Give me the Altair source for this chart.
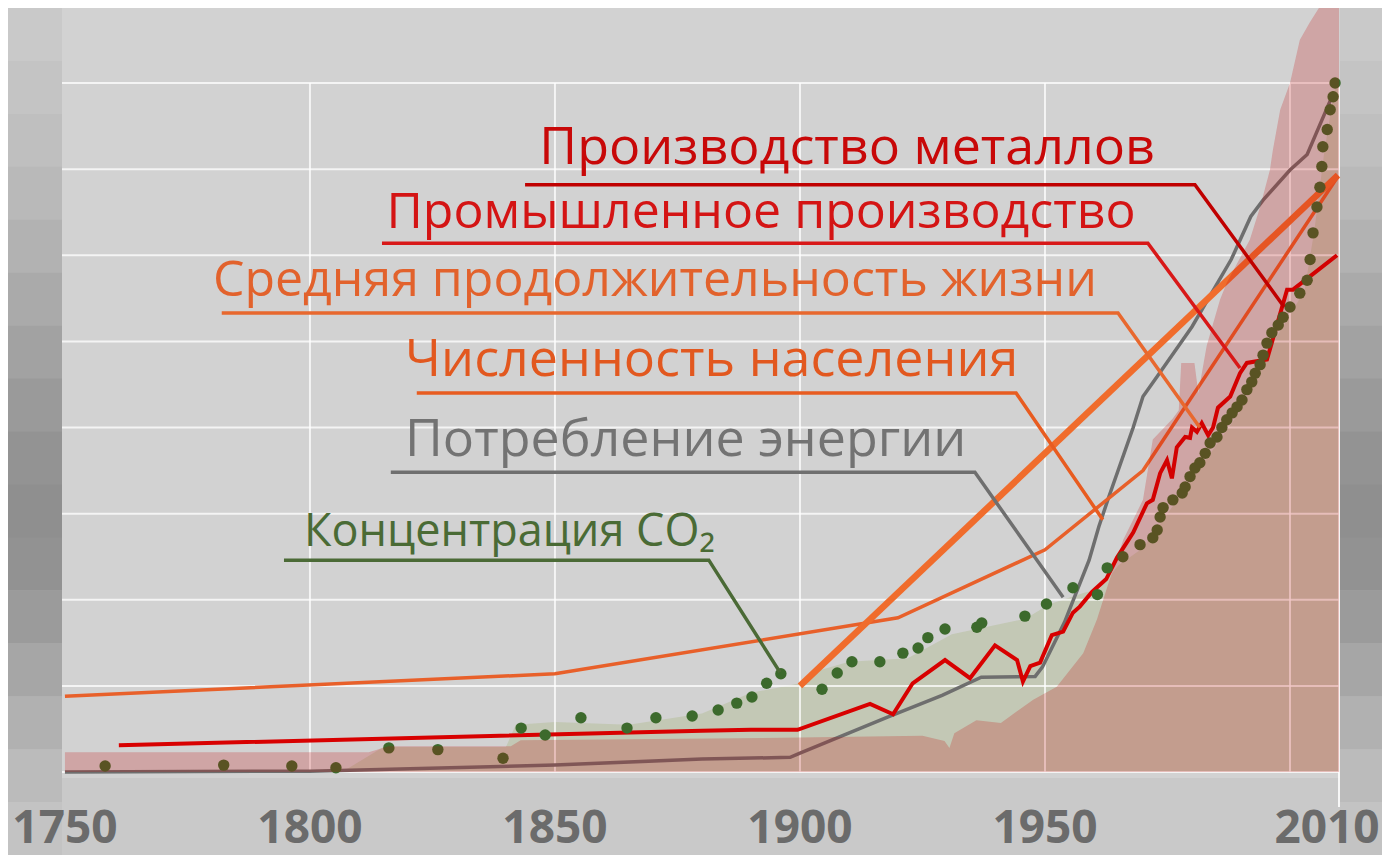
import altair as alt
import pandas as pd

# ---------------- data (y in relative units) ----------------
energy_years = [1750, 1800, 1850, 1880, 1898, 1900, 1918, 1929, 1937, 1948, 1949.5, 1954, 1959,
                1961, 1963, 1968, 1970, 1973, 1980, 1988, 1992, 1994.5, 2000, 2003.5, 2009]
energy_vals = [0.0, 0.01, 0.08, 0.15, 0.17, 0.22, 0.64, 0.89, 1.10, 1.11, 1.22, 1.74, 2.46,
               2.85, 3.19, 4.00, 4.36, 4.60, 5.17, 5.95, 6.45, 6.64, 6.99, 7.17, 7.90]

industry_years = [1761, 1880, 1890, 1899.5, 1914.3, 1919, 1923, 1929.6, 1934.7, 1939.8, 1944.3,
                  1945.5, 1947, 1949, 1951.4, 1953.7, 1955.7, 1957.1, 1959.6, 1962.5, 1964.7,
                  1968, 1970.8, 1972, 1973.5, 1974.9, 1975.9, 1976.9, 1978.6, 1979.6, 1980, 1981,
                  1982, 1983.3, 1984.3, 1985.3, 1987.8, 1989.8, 1991.2, 1995.3, 1999.4, 2000.6,
                  2009.6]
industry_vals = [0.31, 0.48, 0.49, 0.49, 0.79, 0.67, 1.03, 1.30, 1.09, 1.47, 1.30,
                 1.05, 1.23, 1.27, 1.59, 1.63, 1.85, 1.92, 2.09, 2.24, 2.49,
                 2.78, 3.12, 3.16, 3.47, 3.62, 3.41, 3.77, 3.89, 3.88, 4.00, 3.95,
                 4.05, 3.91, 4.00, 4.23, 4.36, 4.63, 4.75, 4.79, 5.60, 5.60,
                 6.00]

population_years = [1750, 1850, 1920, 1950, 1970, 2009.6]
population_vals = [0.88, 1.14, 1.79, 2.58, 3.50, 6.90]

life_years = [1900, 2009.8]
life_vals = [1.00, 6.93]

co2_years = [1758.2, 1782.4, 1796.3, 1805.3, 1816.1, 1826.1, 1839.4, 1843.1, 1848.0, 1855.3,
             1864.7, 1870.6, 1878.0, 1883.3, 1887.1, 1890.2, 1893.2, 1896.1, 1904.5, 1907.6,
             1910.6, 1916.3, 1921.0, 1924.1, 1926.1, 1929.6, 1936.1, 1937.1, 1945.9, 1950.3,
             1955.7, 1960.7, 1962.7, 1965.9, 1969.4, 1972.0, 1972.9, 1973.5, 1974.1, 1976.1,
             1978.0, 1978.6, 1979.6, 1980.6, 1981.6, 1982.7, 1983.7, 1985.1, 1986.1, 1987.1,
             1988.2, 1989.2, 1990.2, 1991.2, 1992.2, 1992.9, 1993.9, 1994.5, 1995.3, 1996.3,
             1997.6, 1998.6, 2000.0, 2002.0, 2003.5, 2004.1, 2004.7, 2005.5, 2006.1, 2006.5,
             2006.7, 2007.6, 2008.2, 2008.8, 2009.2]
co2_vals = [0.07, 0.08, 0.07, 0.05, 0.28, 0.26, 0.16, 0.51, 0.43, 0.63,
            0.51, 0.63, 0.65, 0.72, 0.80, 0.87, 1.03, 1.14, 0.96, 1.15,
            1.28, 1.28, 1.38, 1.44, 1.56, 1.66, 1.68, 1.73, 1.81, 1.95,
            2.14, 2.06, 2.37, 2.50, 2.64, 2.72, 2.81, 2.96, 3.07, 3.16,
            3.24, 3.31, 3.43, 3.53, 3.59, 3.70, 3.82, 3.89, 4.00, 4.09,
            4.17, 4.24, 4.32, 4.44, 4.53, 4.63, 4.73, 4.84, 4.98, 5.10,
            5.19, 5.28, 5.40, 5.56, 5.71, 5.95, 6.26, 6.56, 6.79, 7.03,
            7.26, 7.46, 7.69, 7.84, 8.00]

# green band (under the CO2 points)
green_years = [1750, 1806, 1808, 1815, 1840, 1842, 1850, 1865, 1880, 1890, 1900, 1904, 1910,
               1922, 1931, 1946, 1951, 1958, 1961, 1965, 1970, 1975, 1980, 1985, 1990, 1995,
               2000, 2003, 2005, 2007, 2009, 2010]
green_vals = [0, 0, 0.05, 0.29, 0.29, 0.55, 0.58, 0.55, 0.68, 0.92, 1.03, 1.18, 1.28,
              1.32, 1.60, 1.78, 1.95, 2.08, 2.12, 2.40, 2.60, 3.00, 3.40, 3.80, 4.20, 4.85,
              5.30, 5.60, 6.30, 7.20, 7.90, 8.00]

# translucent red band
pink_years = [1750, 1812, 1816, 1841, 1843, 1900, 1925, 1929.5, 1930.5, 1931.5, 1936, 1941,
              1947.6, 1952.4, 1957.8, 1960.6, 1963, 1966, 1970, 1972, 1976, 1977.3, 1977.8,
              1980.5, 1981.3, 1983, 1985.7, 1987.1, 1991.8, 1993.9, 1995.9, 1996.5, 1998,
              2000, 2002, 2004, 2006, 2008.2, 2010]
pink_vals = [0.23, 0.23, 0.30, 0.30, 0.37, 0.40, 0.42, 0.36, 0.28, 0.45, 0.60, 0.57,
             0.84, 0.99, 1.38, 1.77, 2.20, 2.70, 3.16, 3.86, 4.10, 4.20, 4.75,
             4.75, 4.40, 4.95, 5.48, 5.68, 6.18, 6.56, 6.99, 7.22, 7.69,
             8.00, 8.50, 8.70, 8.88, 9.00, 9.00]

grid_years = [1800, 1850, 1900, 1950, 2000, 2010]
grid_levels = [0, 1, 2, 3, 4, 5, 6, 7, 8]
tick_years = [1750, 1800, 1850, 1900, 1950]
tick_labels = ["1750", "1800", "1850", "1900", "1950"]
last_tick_year = [2010]
last_tick_label = ["2010"]

label_texts = ["Производство металлов", "Промышленное производство",
               "Средняя продолжительность жизни", "Численность населения",
               "Потребление энергии"]
label_colors = ["#c80808", "#d41414", "#e2622c", "#e2581f", "#737373"]
label_sizes = [52, 50, 50, 52, 52]
label_years = [1846.8, 1815.6, 1780.2, 1819.4, 1819.4]
label_vals = [7.06, 6.32, 5.53, 4.60, 3.67]

co2_label = ["Концентрация CO₂"]
co2_label_year = [1798.8]
co2_label_val = [2.62]

leader_names = ["metal"] * 3 + ["industry"] * 3 + ["life"] * 3 + ["pop"] * 3 + ["energy"] * 3 + ["co2"] * 3
leader_years = [1843.9, 1980.6, 1998.8,
                1814.7, 1971.0, 1989.8,
                1782.0, 1964.9, 1981.6,
                1821.8, 1944.1, 1961.8,
                1816.5, 1935.7, 1953.7,
                1794.7, 1881.4, 1895.9]
leader_vals = [6.82, 6.82, 5.40,
               6.14, 6.14, 4.69,
               5.33, 5.33, 4.00,
               4.40, 4.40, 2.93,
               3.48, 3.48, 2.03,
               2.46, 2.46, 1.16]
leader_colors = {"metal": "#c00000", "industry": "#d81818", "life": "#e8682e",
                 "pop": "#e85c20", "energy": "#6f6f6f", "co2": "#4b6a36"}

# side vignette shades (top to bottom), decoration only
strip_shades = ["#c9c9c9", "#c4c4c4", "#bfbfbf", "#b9b9b9", "#b2b2b2", "#aaaaaa", "#a2a2a2",
                "#9a9a9a", "#939393", "#8f8f8f", "#929292", "#9b9b9b", "#a6a6a6", "#b1b1b1",
                "#bbbbbb", "#c3c3c3"]

# ---------------- tables ----------------
def table(xs, ys):
    return pd.DataFrame({"year": xs, "value": ys})

energy_df = table(energy_years, energy_vals)
industry_df = table(industry_years, industry_vals)
population_df = table(population_years, population_vals)
life_df = table(life_years, life_vals)
co2_df = table(co2_years, co2_vals)
green_df = table(green_years, green_vals)
pink_df = table(pink_years, pink_vals)
labels_df = pd.DataFrame({"year": label_years, "value": label_vals, "text": label_texts,
                          "color": label_colors, "fs": label_sizes})
co2_label_df = pd.DataFrame({"year": co2_label_year, "value": co2_label_val, "text": co2_label})
leader_df = pd.DataFrame({"name": leader_names, "year": leader_years, "value": leader_vals,
                          "idx": list(range(len(leader_names)))})
leader_df["color"] = leader_df["name"].map(leader_colors)
ticks_df = pd.DataFrame({"year": tick_years, "label": tick_labels})
last_tick_df = pd.DataFrame({"year": last_tick_year, "label": last_tick_label})
vgrid_df = pd.DataFrame({"year": grid_years, "value": [0] * len(grid_years),
                         "top": [8] * len(grid_years)})
tail_df = pd.DataFrame({"year": last_tick_year, "value": [0]})

W, H = 1277, 689
x_scale = alt.Scale(domain=[1749.4, 2010.0], nice=False, zero=False)
y_scale = alt.Scale(domain=[0, 8], nice=False, zero=False)
X = alt.X("year:Q", scale=x_scale, axis=None)
Y = alt.Y("value:Q", scale=y_scale, axis=None)
one = pd.DataFrame({"a": [0]})

bg_layers = [alt.Chart(one).mark_rect(color="#d2d2d2").encode(
    x=alt.value(0), x2=alt.value(W + 1), y=alt.value(-75), y2=alt.value(H + 6))]
band_h = (H + 83 + 75) / len(strip_shades)
for i, shade in enumerate(strip_shades):
    top = -75 + i * band_h
    for (xa, xb) in [(-54, 0), (W + 1, W + 45)]:
        bg_layers.append(alt.Chart(one).mark_rect(color=shade).encode(
            x=alt.value(xa), x2=alt.value(xb), y=alt.value(top), y2=alt.value(top + band_h + 0.5)))

green = alt.Chart(green_df).mark_area(color="#c3c8b5", opacity=1).encode(x=X, y=Y)

hgrid = alt.Chart(pd.DataFrame({"value": grid_levels})).mark_rule(
    color="#ffffff", strokeWidth=2, opacity=0.75).encode(y=Y)
vgrid = alt.Chart(vgrid_df).mark_rule(
    color="#ffffff", strokeWidth=2, opacity=0.75).encode(x=X, y=Y, y2="top:Q")
tail = alt.Chart(tail_df).mark_rule(
    color="#ffffff", strokeWidth=2, opacity=0.85).encode(x=X, y=Y, y2=alt.value(H + 35))

energy = alt.Chart(energy_df).mark_line(color="#6e6e6e", strokeWidth=3.5).encode(x=X, y=Y)
population = alt.Chart(population_df).mark_line(color="#e8602a", strokeWidth=3.5).encode(x=X, y=Y)
life = alt.Chart(life_df).mark_line(color="#f06c2c", strokeWidth=6.5).encode(x=X, y=Y)
industry = alt.Chart(industry_df).mark_line(color="#d80000", strokeWidth=4).encode(x=X, y=Y)
dots = alt.Chart(co2_df).mark_circle(size=130, color="#3c6a2c", opacity=1).encode(x=X, y=Y)
pink = alt.Chart(pink_df).mark_area(color="#c20404", opacity=0.22).encode(x=X, y=Y)

leaders = alt.Chart(leader_df).mark_line(strokeWidth=3.5).encode(
    x=X, y=Y, detail="name:N", order="idx:Q", color=alt.Color("color:N", scale=None))

labels = alt.Chart(labels_df).mark_text(
    align="left", baseline="alphabetic", font="Open Sans").encode(
    x=X, y=Y, text="text:N", color=alt.Color("color:N", scale=None),
    size=alt.Size("fs:Q", scale=None))
co2_text = alt.Chart(co2_label_df).mark_text(
    align="left", baseline="alphabetic", font="Open Sans", fontSize=45, color="#4a6b35").encode(
    x=X, y=Y, text="text:N")

year_text = alt.Chart(ticks_df).mark_text(
    font="Open Sans", fontWeight="bold", fontSize=46, color="#6b6b6b",
    baseline="alphabetic", align="center").encode(x=X, y=alt.value(H + 71), text="label:N")
year_last = alt.Chart(last_tick_df).mark_text(
    font="Open Sans", fontWeight="bold", fontSize=46, color="#6b6b6b",
    baseline="alphabetic", align="center", dx=-12).encode(x=X, y=alt.value(H + 71), text="label:N")

chart = alt.layer(
    *bg_layers, green, hgrid, vgrid, tail,
    energy, population, life, industry, dots, pink,
    leaders, labels, co2_text, year_text, year_last
).properties(
    width=W, height=H,
    autosize=alt.AutoSizeParams(type="none"),
    padding={"left": 54, "top": 75, "right": 43, "bottom": 83},
    background="#c9c9c9",
).configure_view(stroke=None)

chart.save("out.html", embed_options={"renderer": "svg", "actions": False})
